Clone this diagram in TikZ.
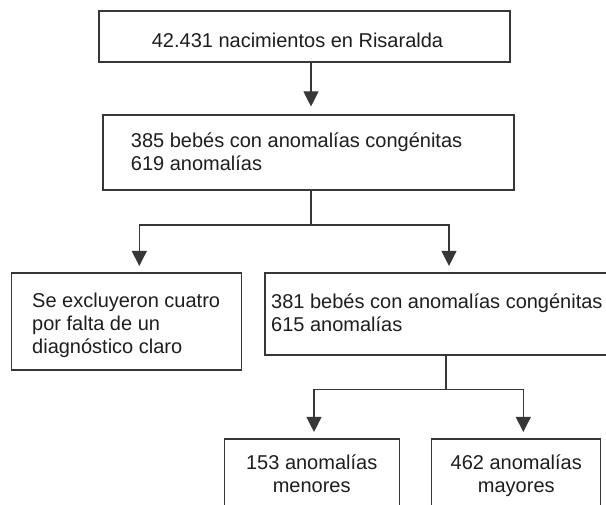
\documentclass[tikz,border=0pt]{standalone}
\usepackage{fontspec}
\setmainfont{Liberation Sans}
\usetikzlibrary{arrows.meta}
\definecolor{linec}{RGB}{55,55,55}
\definecolor{textc}{RGB}{30,30,30}
\tikzset{
  box/.style={draw=linec, line width=1.1pt, inner sep=0pt, fill=none},
  txt/.style={font=\fontsize{20}{23}\selectfont, inner sep=0pt, text=textc},
  conn/.style={draw=linec, line width=1.1pt},
  arr/.style={conn, -{Triangle[length=15pt,width=15pt]}, shorten >=6.5pt}
}
\begin{document}
\begin{tikzpicture}[x=1pt,y=-1pt]
\useasboundingbox (0,0) rectangle (606,505);
\clip (0,0) rectangle (606,505);
\fill[white] (0,0) rectangle (606,505);
% boxes
\node[box, minimum width=411pt, minimum height=51pt] (b1) at (304.5,36.5) {};
\node[box, minimum width=411pt, minimum height=75pt] (b2) at (308.5,152.5) {};
\node[box, minimum width=230pt, minimum height=97pt] (b3) at (126.7,321.5) {};
\node[box, minimum width=385pt, minimum height=82pt] (b4) at (457.5,314) {};
\node[box, minimum width=175pt, minimum height=70pt] (b5) at (311.7,474) {};
\node[box, minimum width=169pt, minimum height=70pt] (b6) at (516.3,474) {};
% texts (base anchor = baseline of the last line)
\node[txt, anchor=base] (t1) at (297.5,47.2) {42.431 nacimientos en Risaralda};
\node[txt, anchor=base west, align=left] (t2) at (130.7,170.2) {385 bebés con anomalías congénitas\\619 anomalías};
\node[txt, anchor=base west, align=left] (t3) at (32,353.2) {Se excluyeron cuatro\\por falta de un\\diagnóstico claro};
\node[txt, anchor=base west, align=left] (t4) at (271,332) {381 bebés con anomalías congénitas\\615 anomalías};
\node[txt, anchor=base, align=center] (t5) at (311.7,493) {153 anomalías\\menores};
\node[txt, anchor=base, align=center] (t6) at (516.3,493) {462 anomalías\\mayores};
% junctions
\coordinate (j1) at (311,225);
\coordinate (s3) at (139.3,225);
\coordinate (s4) at (449,225);
\coordinate (j2) at (446,389.3);
\coordinate (s5) at (314,389.3);
\coordinate (s6) at (523.3,389.3);
% connectors
\draw[arr, shorten >=8pt] ([xshift=6.5pt]b1.south) -- ([xshift=6.5pt]b1.south |- b2.north);
\draw[conn] (b2.south -| j1) -- (j1);
\draw[arr] (j1) -- (s3) -- (s3 |- b3.north);
\draw[arr] (j1) -- (s4) -- (s4 |- b4.north);
\draw[conn] (b4.south -| j2) -- (j2);
\draw[arr] (j2) -- (s5) -- (s5 |- b5.north);
\draw[arr] (j2) -- (s6) -- (s6 |- b6.north);
\end{tikzpicture}
\end{document}
